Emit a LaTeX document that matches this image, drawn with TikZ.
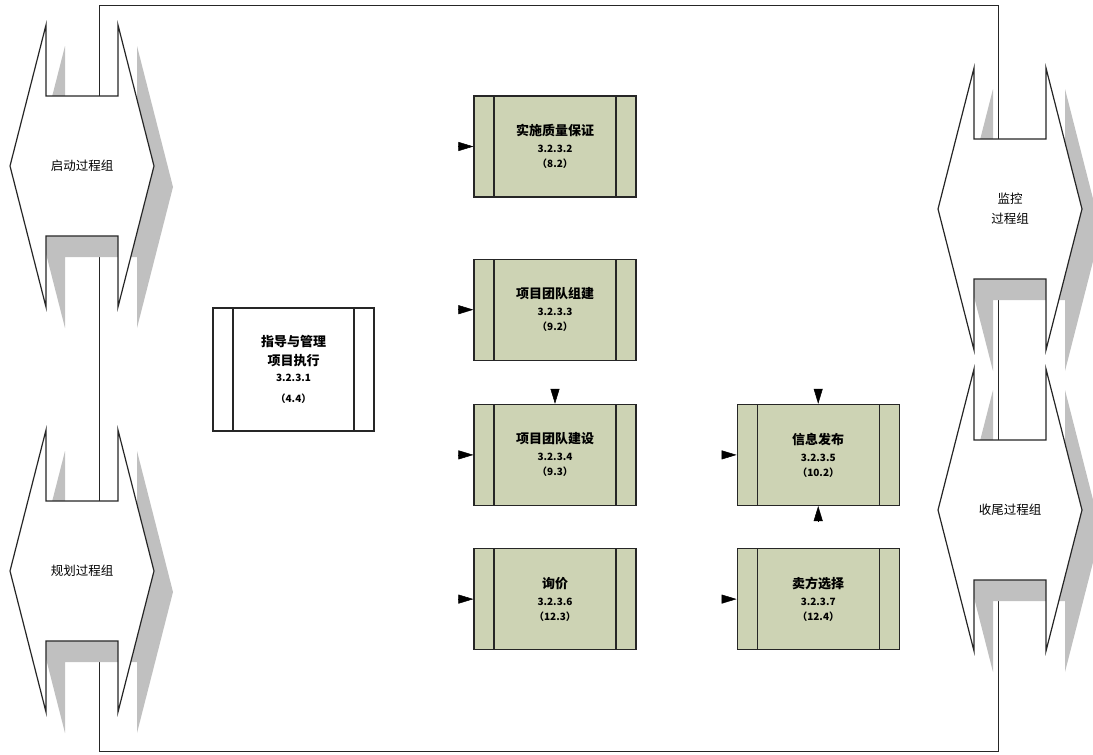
\documentclass[tikz,border=0pt]{standalone}
\usepackage{fontspec}
\setmainfont{Noto Sans CJK SC}
\usepackage{tikz}
\usetikzlibrary{arrows.meta, positioning, backgrounds}
\definecolor{cBox}{RGB}{205,211,180}
\definecolor{cShade}{RGB}{192,192,192}
\newcommand{\ttl}{\fontsize{13}{18}\selectfont\bfseries}
\tikzset{
	subproc/.style ={rectangle, draw=black!85, line width=1.2pt, fill=cBox, minimum width=162pt, minimum height=101pt, inner sep=0pt, align=center,
		font=\fontsize{10}{17}\selectfont\bfseries,
		path picture={\draw[line width=1.2pt, black!85] ([xshift=20pt]path picture bounding box.north west) -- ([xshift=20pt]path picture bounding box.south west)
			([xshift=-20pt]path picture bounding box.north east) -- ([xshift=-20pt]path picture bounding box.south east);}},
	grpoutline/.pic={\path[pic actions] (36,0) -- (36,71) -- (108,71) -- (108,0) -- (144,141) -- (108,282) -- (108,211) -- (36,211) -- (36,282) -- (0,141) -- cycle;},
	grpshape/.style ={draw=black!85, line width=1.2pt, fill=white},
	grpshade/.style ={fill=cShade},
	grplabel/.style ={font=\fontsize{12.5}{20}\selectfont, align=center, inner sep=0pt},
	link/.style     ={line width=1pt, black!85},
	intip/.style    ={-{Triangle[length=15pt, width=9pt]}, line width=0.5pt},
}
% process group: name, left, top, x of the link, label
\newcommand{\procgrp}[5]{
	\pic[grpshade] at (#2+19,#3+21) {grpoutline};
	\pic[grpshape] at (#2,#3) {grpoutline};
	\node[grplabel] (#1) at (#2+72,#3+141) {#5};
	\coordinate (#1-n) at (#4,#3+71);
	\coordinate (#1-s) at (#4,#3+211);
}

\begin{document}
\begin{tikzpicture}[x=1pt, y=-1pt]
	\useasboundingbox (0,0) rectangle (1093,755);
	\procgrp{init}{10}{25}{99}{启动过程组}
	\procgrp{plan}{10}{430}{99}{规划过程组}
	\procgrp{mon}{938}{68}{998}{监控\\过程组}
	\procgrp{close}{938}{369}{998}{收尾过程组}
	\begin{scope}[on background layer]
		\draw[link] (init-n) -- ++(0,-91) -| (mon-n);
		\draw[link] (init-s) -- (plan-n);
		\draw[link] (plan-s) -- ++(0,110) -| (close-s);
		\draw[link] (mon-s) -- (close-n);
	\end{scope}
	\node[subproc, fill=white, minimum width=161pt, minimum height=123pt] (exec) at (293.5,369.5) {{\ttl 指导与管理}\\[2pt]{\ttl 项目执行}\\[-1pt]3.2.3.1\\[4pt]（4.4）};
	\node[subproc] (qa) at (555,146.5) {{\ttl 实施质量保证}\\3.2.3.2\\[-2pt]（8.2）};
	\node[subproc, below=61pt of qa] (acq) {{\ttl 项目团队组建}\\3.2.3.3\\[-2pt]（9.2）};
	\node[subproc, below=43pt of acq] (dev) {{\ttl 项目团队建设}\\3.2.3.4\\[-2pt]（9.3）};
	\node[subproc, below=42pt of dev] (bid) {{\ttl 询价}\\3.2.3.6\\[-2pt]（12.3）};
	\node[subproc, right=100pt of dev] (info) {{\ttl 信息发布}\\3.2.3.5\\[-2pt]（10.2）};
	\node[subproc, right=100pt of bid] (sel) {{\ttl 卖方选择}\\3.2.3.7\\[-2pt]（12.4）};
	\foreach \b in {qa, acq, dev, bid, info, sel} {
		\coordinate[left=15pt of \b.west] (\b-in);
		\draw[intip] (\b-in) -- (\b.west);
	}
	\coordinate[above=15pt of dev.north] (dev-top);
	\coordinate[above=15pt of info.north] (info-top);
	\coordinate[below=15pt of info.south] (info-bot);
	\draw[intip] (dev-top) -- (dev.north);
	\draw[intip] (info-top) -- (info.north);
	\draw[intip] (info-bot) -- (info.south);
\end{tikzpicture}
\end{document}
